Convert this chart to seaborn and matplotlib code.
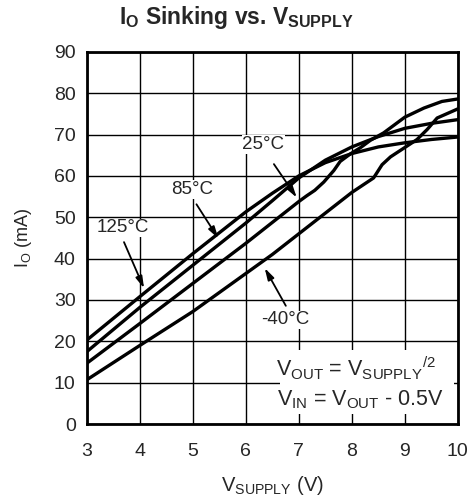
import numpy as np
import pandas as pd
import matplotlib
matplotlib.use("Agg")
import matplotlib.pyplot as plt
import seaborn as sns
from matplotlib.patches import Rectangle

# curve data (V_SUPPLY in V, I_O in mA)
v_125 = [3.0, 4.0, 5.0, 6.0, 6.5, 7.0, 7.5, 8.0, 8.5, 9.0, 9.5, 10.0]
i_125 = [20.3, 30.8, 41.2, 51.3, 55.8, 60.0, 63.2, 65.4, 67.0, 68.0, 68.8, 69.4]

v_85 = [3.0, 4.0, 5.0, 5.5, 6.0, 6.5, 7.0, 7.5, 8.0, 8.5, 9.0, 9.5, 10.0]
i_85 = [17.5, 28.2, 38.4, 43.5, 48.6, 54.0, 59.5, 63.8, 67.0, 69.5, 71.5, 72.7, 73.6]

v_25 = [3.0, 4.0, 5.0, 6.0, 7.0, 7.15, 7.3, 7.47, 7.66, 7.78, 7.97, 8.16, 8.35, 8.6, 9.0, 9.36, 9.7, 10.0]
i_25 = [14.7, 24.3, 34.0, 43.7, 53.8, 55.2, 56.5, 58.5, 61.3, 63.5, 65.3, 66.8, 68.6, 70.4, 74.2, 76.4, 78.0, 78.6]

v_m40 = [3.0, 4.0, 5.0, 6.0, 6.5, 7.0, 7.5, 8.0, 8.41, 8.57, 8.73, 8.98, 9.23, 9.42, 9.61, 10.0]
i_m40 = [10.7, 19.0, 27.2, 36.4, 41.0, 46.0, 51.0, 56.0, 59.5, 62.7, 64.6, 66.7, 68.8, 71.2, 74.0, 76.2]

temps = ["125°C", "85°C", "25°C", "-40°C"]

# label text position, arrow tail and arrow tip for each curve
label_xy = [(3.68, 47.4), (4.98, 56.7), (6.33, 67.6), (6.74, 25.2)]
tail_xy = [(3.68, 44.6), (5.04, 53.7), (6.5, 63.4), (6.78, 28.0)]
tip_xy = [(4.1, 32.2), (5.51, 44.3), (6.99, 54.2), (6.33, 38.3)]

df = pd.concat([
    pd.DataFrame({"v": v_125, "i": i_125, "temp": temps[0]}),
    pd.DataFrame({"v": v_85, "i": i_85, "temp": temps[1]}),
    pd.DataFrame({"v": v_25, "i": i_25, "temp": temps[2]}),
    pd.DataFrame({"v": v_m40, "i": i_m40, "temp": temps[3]}),
])

sns.set_style("white")
plt.rcParams["font.family"] = ["Liberation Sans", "DejaVu Sans"]
plt.rcParams["mathtext.fontset"] = "custom"
plt.rcParams["mathtext.rm"] = "Liberation Sans"
plt.rcParams["mathtext.bf"] = "Liberation Sans:bold"
plt.rcParams["mathtext.default"] = "regular"

fig = plt.figure(figsize=(4.72, 5.03), dpi=100)
ax = fig.add_axes([0.184, 0.157, 0.786, 0.740])

sns.lineplot(data=df, x="v", y="i", hue="temp", palette=["black"] * 4,
             linewidth=2.4, legend=False, sort=False, ax=ax, zorder=3)

ax.set_xlim(3, 10)
ax.set_ylim(0, 90)
ax.set_xticks(np.arange(3, 11, 1))
ax.set_yticks(np.arange(0, 100, 10))
ax.grid(True, color="black", linewidth=1.0)
ax.tick_params(axis="x", length=0, labelsize=14, pad=14)
ax.tick_params(axis="y", length=0, labelsize=14, pad=8)
for s in ax.spines.values():
    s.set_linewidth(2.0)
    s.set_color("black")

# white box behind the condition text
ax.add_patch(Rectangle((0.52, 0.028), 0.47, 0.172, transform=ax.transAxes,
                       facecolor="white", edgecolor="none", zorder=2.5))
ax.text(6.56, 11.4, r"V$_{OUT}$ = V$_{SUPPLY}{}^{/2}$", ha="left", va="baseline",
        fontsize=15.5, zorder=4)
ax.text(6.58, 4.6, r"V$_{IN}$ = V$_{OUT}$ - 0.5V", ha="left", va="baseline",
        fontsize=15.5, zorder=4)

for t, lab, tail, tip in zip(temps, label_xy, tail_xy, tip_xy):
    ax.text(lab[0], lab[1], t, ha="center", va="center", fontsize=13.5,
            zorder=5, bbox=dict(facecolor="white", edgecolor="none", pad=0.5))
    ax.annotate("", xy=tip, xytext=tail, zorder=5,
                arrowprops=dict(arrowstyle="-|>,head_length=0.7,head_width=0.2",
                                color="black", linewidth=1.3))

# title is centred on the figure, not on the axes
fig.text(0.5, 1 - 24 / 503, r"I$_{\mathbf{O}}$ Sinking vs. V$_{\mathbf{SUPPLY}}$",
         ha="center", va="baseline", fontsize=16.5, fontweight="bold")
ax.set_xlabel(r"V$_{SUPPLY}$ (V)", fontsize=14.5, labelpad=10)
ax.set_ylabel(r"I$_{O}$ (mA)", fontsize=13, labelpad=14)

fig.savefig("out.png", dpi=100)
